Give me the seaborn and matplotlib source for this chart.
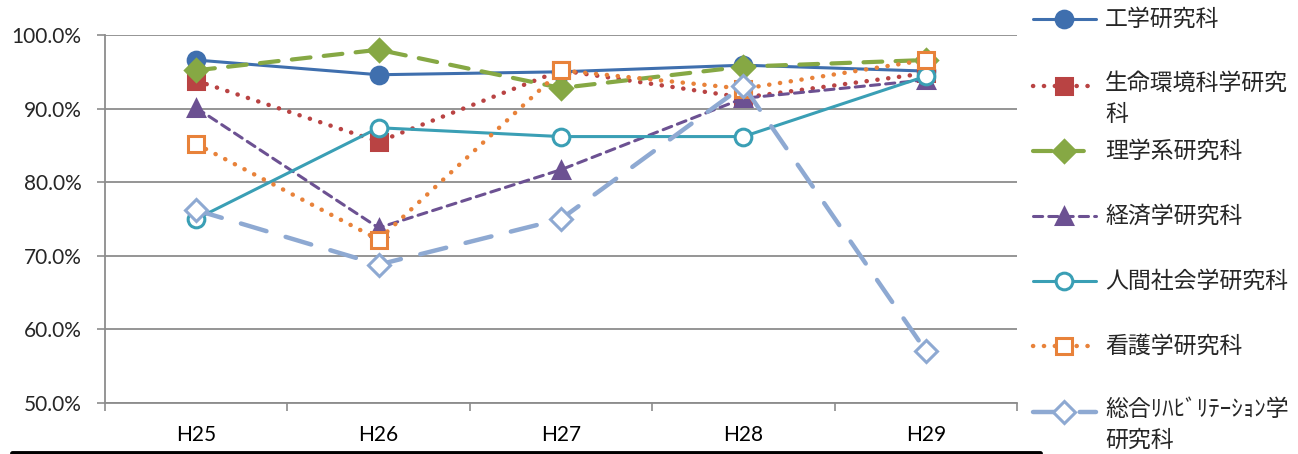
import matplotlib
matplotlib.use("Agg")
import matplotlib.pyplot as plt
import seaborn as sns
from matplotlib.lines import Line2D
from matplotlib.ticker import FixedLocator, PercentFormatter

years = ["H25", "H26", "H27", "H28", "H29"]

kogaku = [96.6, 94.6, 95.0, 95.9, 95.1]
seimei = [93.8, 85.5, 95.2, 91.5, 94.8]
rigaku = [95.2, 98.0, 92.8, 95.7, 96.6]
keizai = [90.1, 73.8, 81.7, 91.4, 93.9]
ningen = [75.0, 87.4, 86.2, 86.2, 94.4]
kango = [85.2, 72.2, 95.2, 92.7, 96.6]
sogo = [76.2, 68.8, 75.0, 93.1, 57.1]

labels = ["工学研究科", "生命環境科学研究\n科", "理学系研究科", "経済学研究科",
          "人間社会学研究科", "看護学研究科", "総合ﾘﾊﾋﾞﾘﾃｰｼｮﾝ学\n研究科"]
values = [kogaku, seimei, rigaku, keizai, ningen, kango, sogo]

# colour, line style, width, marker, marker size, filled
styles = [
    ("#3F6FAE", "-", 2.2, "o", 12, True),
    ("#B94343", (0, (0.05, 2.4)), 3.2, "s", 12, True),
    ("#86A844", (0, (4.5, 3.2)), 3.0, "D", 11, True),
    ("#6C5192", (0, (3.0, 2.0)), 2.2, "^", 12, True),
    ("#3A9FB5", "-", 2.2, "o", 12, False),
    ("#E8823A", (0, (0.05, 2.4)), 3.2, "s", 12, False),
    ("#8EA9D2", (0, (6.0, 4.5)), 3.2, "D", 11, False),
]

sns.set_style("white")
plt.rcParams["font.family"] = ["Lato", "Noto Sans CJK JP", "DejaVu Sans"]

fig = plt.figure(figsize=(12.98, 4.54), dpi=100)
ax = fig.add_axes([0.0809, 0.1123, 0.7026, 0.8106])

for vals, (col, ls, lw, mk, ms, filled) in zip(values, styles):
    sns.lineplot(x=years, y=vals, ax=ax, color=col, linestyle=ls, linewidth=lw,
                 marker=mk, markersize=ms, markeredgewidth=2.2,
                 markerfacecolor=col if filled else "white", markeredgecolor=col,
                 sort=False, errorbar=None, dash_capstyle="round")

ax.set_xlim(-0.5, 4.5)
ax.set_ylim(50, 100)
ax.set_yticks(range(50, 101, 10))
ax.yaxis.set_major_formatter(PercentFormatter(decimals=1))
ax.xaxis.set_minor_locator(FixedLocator([-0.5, 0.5, 1.5, 2.5, 3.5, 4.5]))
ax.tick_params(axis="x", which="major", length=0, pad=16, labelsize=15, colors="black")
ax.tick_params(axis="x", which="minor", length=6, width=1.2, color="#8C8C8C", direction="out")
ax.tick_params(axis="y", which="major", length=6, width=1.2, color="#8C8C8C",
               direction="out", pad=11, labelsize=15)
ax.tick_params(left=True, bottom=True, which="both")
ax.xaxis.set_tick_params(which="minor", bottom=True)
ax.grid(axis="y", color="#8C8C8C", linewidth=1.3)
ax.set_axisbelow(True)
for side in ["top", "right"]:
    ax.spines[side].set_visible(False)
for side in ["left", "bottom"]:
    ax.spines[side].set_color("#8C8C8C")
    ax.spines[side].set_linewidth(1.3)
ax.set_xlabel("")
ax.set_ylabel("")

# legend drawn on the right, marker aligned with first text line
leg_y = [19, 86, 151, 216, 281, 346, 412]
for (col, ls, lw, mk, ms, filled), lab, yy in zip(styles, labels, leg_y):
    fy = 1 - yy / 454
    fig.add_artist(Line2D([1033 / 1298, 1096 / 1298], [fy, fy], transform=fig.transFigure,
                          color=col, linestyle=ls, linewidth=lw, dash_capstyle="round"))
    fig.add_artist(Line2D([1064 / 1298], [fy], transform=fig.transFigure, marker=mk,
                          markersize=ms, markeredgewidth=2.2, color=col,
                          markerfacecolor=col if filled else "white", markeredgecolor=col))
    t = fig.text(1105 / 1298, fy, lab, ha="left", va="center",
                 fontsize=16.5, family=["Noto Sans CJK JP", "DejaVu Sans"],
                 linespacing=1.45)
    if "\n" in lab:
        t.set_va("top")
        t.set_y(fy + 14 / 454)

# black border along the bottom edge
fig.add_artist(Line2D([12 / 1298, 1040 / 1298], [1.5 / 454, 1.5 / 454],
                      transform=fig.transFigure, color="black", linewidth=3.5))

fig.savefig("out.png", dpi=100)
